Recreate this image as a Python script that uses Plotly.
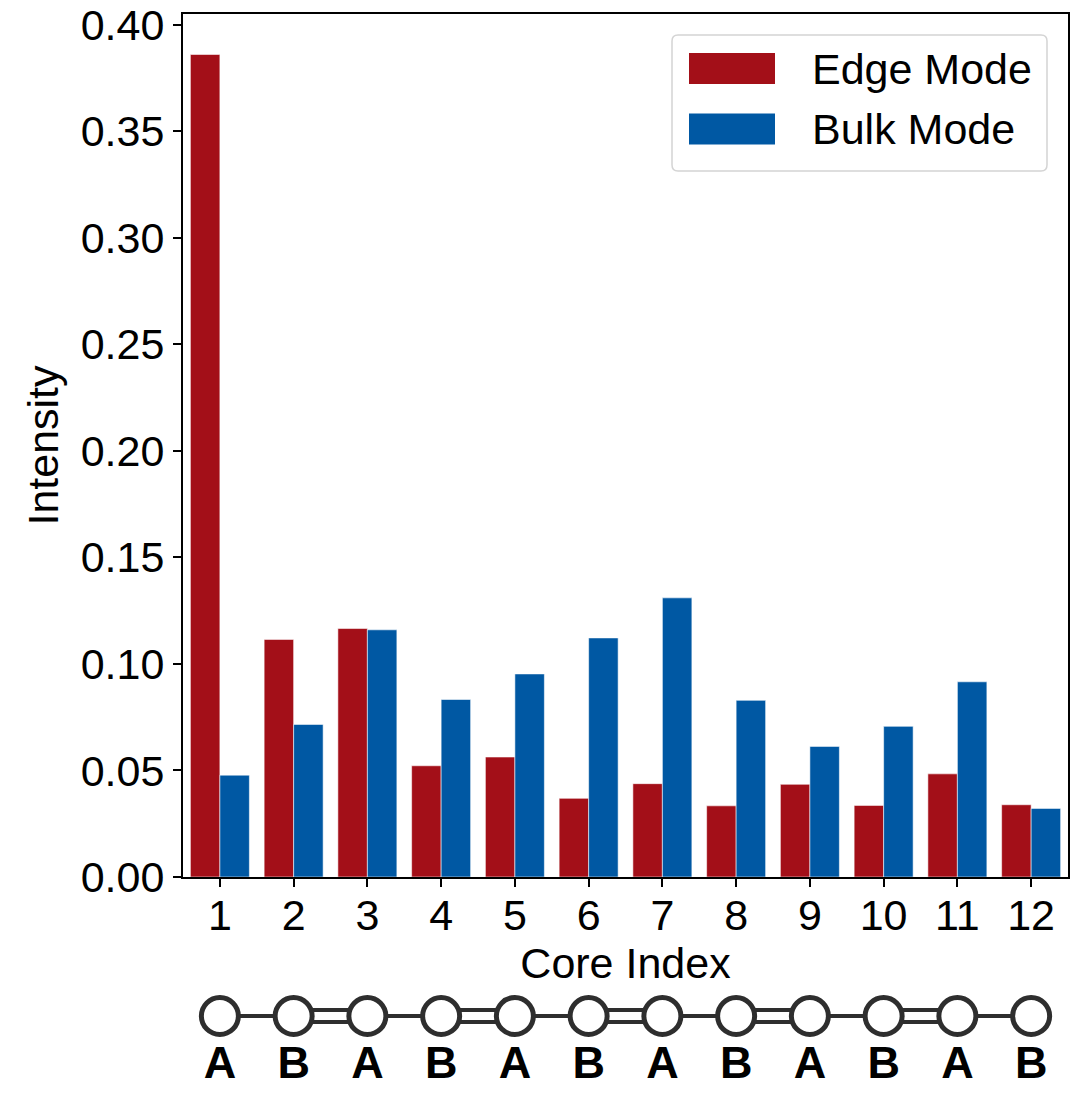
import plotly.graph_objects as go

# Core intensities for the two modes of the 12-core chain
cores = list(range(1, 13))
edge_mode = [0.386, 0.1115, 0.1166, 0.0522, 0.0563, 0.0369,
             0.0438, 0.0334, 0.0435, 0.0336, 0.0484, 0.0339]
bulk_mode = [0.0478, 0.0716, 0.1160, 0.0833, 0.0953, 0.1122,
             0.1310, 0.0829, 0.0613, 0.0707, 0.0916, 0.0322]
sublattice = ["A", "B", "A", "B", "A", "B", "A", "B", "A", "B", "A", "B"]
y_ticks = [0.00, 0.05, 0.10, 0.15, 0.20, 0.25, 0.30, 0.35, 0.40]

series_names = ["Edge Mode", "Bulk Mode"]
RED = "#A30F18"
BLUE = "#0058A3"
INK = "#2e2e2e"
FONT = "Liberation Sans, Arial, Helvetica, sans-serif"
FS = 43

W, H = 1089, 1096
ML, MR, MT, MB = 183, 21, 14, 0
PW, PH = W - ML - MR, H - MT - MB
plot_bottom_px = 877                      # bottom of the bar panel
main_domain = [(H - plot_bottom_px) / PH, 1.0]
chain_h = 130                             # height of the chain strip, px
chain_domain = [0.0, chain_h / PH]


def px(x, y):
    """Convert page pixels to paper coordinates."""
    return (x - ML) / PW, (H - y) / PH


fig = go.Figure()

for name, vals, col in [(series_names[0], edge_mode, RED),
                        (series_names[1], bulk_mode, BLUE)]:
    fig.add_trace(go.Bar(
        x=cores, y=vals, name=name, showlegend=False,
        marker=dict(color=col, line=dict(color="rgba(255,255,255,0.55)", width=1)),
        xaxis="x", yaxis="y",
    ))

# ---- chain diagram under the axis: bonds, sites and sublattice letters ----
node_y = 80
label_y = 29
for i in range(len(cores) - 1):
    x_pair = [cores[i], cores[i + 1]]
    # A->B bond inside a cell is single, B->A bond between cells is double
    if sublattice[i] == "A":
        offsets = [0]
    else:
        offsets = [-6, 6]
    for off in offsets:
        fig.add_trace(go.Scatter(
            x=x_pair, y=[node_y + off] * 2, mode="lines",
            line=dict(color=INK, width=4), showlegend=False,
            hoverinfo="skip", xaxis="x2", yaxis="y2", cliponaxis=False,
        ))

fig.add_trace(go.Scatter(
    x=cores, y=[node_y] * len(cores), mode="markers",
    marker=dict(size=37, color="white", line=dict(color=INK, width=5)),
    showlegend=False, hoverinfo="skip", xaxis="x2", yaxis="y2",
    cliponaxis=False,
))
fig.add_trace(go.Scatter(
    x=cores, y=[label_y] * len(cores), mode="text", text=sublattice,
    textfont=dict(family=FONT, size=45, color="black", weight="bold"),
    showlegend=False, hoverinfo="skip", xaxis="x2", yaxis="y2",
    cliponaxis=False,
))

# ---- legend box drawn by hand (wide swatches, rounded frame) ----
shapes = []
bx0, by0 = px(672, 35)
bx1, by1 = px(1047, 171)
rx, ry = 6 / PW, 6 / PH
path = (f"M {bx0+rx},{by0} L {bx1-rx},{by0} Q {bx1},{by0} {bx1},{by0-ry} "
        f"L {bx1},{by1+ry} Q {bx1},{by1} {bx1-rx},{by1} "
        f"L {bx0+rx},{by1} Q {bx0},{by1} {bx0},{by1+ry} "
        f"L {bx0},{by0-ry} Q {bx0},{by0} {bx0+rx},{by0} Z")
shapes.append(dict(type="path", path=path, xref="paper", yref="paper",
                   fillcolor="rgba(255,255,255,0.85)",
                   line=dict(color="#d4d4d4", width=1.5), layer="above"))
annotations = []
for k, (name, col) in enumerate([(series_names[0], RED), (series_names[1], BLUE)]):
    cy = 68.5 + 60.5 * k
    sx0, sy0 = px(689, cy - 15.5)
    sx1, sy1 = px(775, cy + 15.5)
    shapes.append(dict(type="rect", xref="paper", yref="paper",
                       x0=sx0, x1=sx1, y0=sy1, y1=sy0,
                       fillcolor=col, line=dict(width=0), layer="above"))
    tx, ty = px(810, cy)
    annotations.append(dict(x=tx, y=ty, xref="paper", yref="paper",
                            text=name, showarrow=False, xanchor="left",
                            yanchor="middle",
                            font=dict(family=FONT, size=FS, color="black")))

axis_common = dict(
    showline=True, linecolor="black", linewidth=2, mirror=True,
    ticks="outside", ticklen=8, tickwidth=2, tickcolor="black",
    showgrid=False, zeroline=False, automargin=False,
    tickfont=dict(family=FONT, size=FS, color="black"),
)

fig.update_layout(
    width=W, height=H,
    margin=dict(l=ML, r=MR, t=MT, b=MB, autoexpand=False),
    paper_bgcolor="white", plot_bgcolor="white",
    barmode="group", bargap=0.2, bargroupgap=0.0,
    font=dict(family=FONT, size=FS, color="black"),
    xaxis=dict(axis_common, domain=[0, 1], range=[0.5, 12.5],
               tickmode="array", tickvals=cores,
               ticktext=[str(c) for c in cores], anchor="y",
               ticklabelstandoff=-9,
               title=dict(text="Core Index", standoff=8,
                          font=dict(family=FONT, size=FS))),
    yaxis=dict(axis_common, domain=main_domain, range=[0, 0.405],
               tickmode="array", tickvals=y_ticks,
               ticktext=[f"{v:.2f}" for v in y_ticks], anchor="x",
               ticklabelstandoff=0,
               title=dict(text="Intensity", standoff=9,
                          font=dict(family=FONT, size=FS))),
    xaxis2=dict(domain=[0, 1], matches="x", anchor="y2", visible=False,
                automargin=False),
    yaxis2=dict(domain=chain_domain, range=[0, chain_h], anchor="x2",
                visible=False, fixedrange=True, automargin=False),
    shapes=shapes, annotations=annotations,
)

fig.write_html("out.html")
